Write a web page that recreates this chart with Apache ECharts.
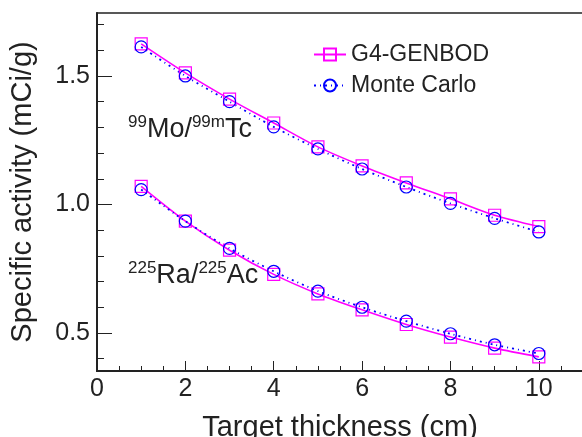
<!DOCTYPE html>
<html>
<head>
<meta charset="utf-8">
<script src="https://cdn.jsdelivr.net/npm/echarts@6/dist/echarts.min.js"></script>
<style>
  html, body { margin: 0; padding: 0; background: #fff; }
  #chart { width: 582px; height: 437px; }
</style>
</head>
<body>
<div id="chart"></div>
<script>
var thickness = [1, 2, 3, 4, 5, 6, 7, 8, 9, 10];
// 99Mo/99mTc
var g4Mo = [1.625, 1.512, 1.410, 1.317, 1.224, 1.150, 1.084, 1.022, 0.958, 0.914];
var mcMo = [1.613, 1.500, 1.400, 1.302, 1.216, 1.138, 1.068, 1.004, 0.946, 0.893];
// 225Ra/225Ac
var g4Ra = [1.070, 0.935, 0.822, 0.728, 0.652, 0.590, 0.533, 0.484, 0.441, 0.407];
var mcRa = [1.058, 0.935, 0.829, 0.740, 0.663, 0.600, 0.546, 0.497, 0.454, 0.420];

var xMajor = [0, 2, 4, 6, 8, 10];
var xMinor = [0.5, 1, 1.5, 2.5, 3, 3.5, 4.5, 5, 5.5, 6.5, 7, 7.5, 8.5, 9, 9.5, 10.5];
var yMajor = [0.5, 1.0, 1.5];
var yMinor = [0.4, 0.6, 0.7, 0.8, 0.9, 1.1, 1.2, 1.3, 1.4, 1.6, 1.7];

var FONT = 'Liberation Sans, Arial, sans-serif';
var AX = '#222';

function pairs(ys) { return thickness.map(function(x, i) { return [x, ys[i]]; }); }

function g4Series(ys) {
  return {
    name: 'G4-GENBOD', type: 'line', data: pairs(ys), smooth: 0.3,
    symbol: 'rect', symbolSize: 12,
    lineStyle: { color: '#ff00ff', width: 1.6, type: 'solid' },
    itemStyle: { color: 'rgba(0,0,0,0)', borderColor: '#ff00ff', borderWidth: 1.2 }
  };
}
function mcSeries(ys) {
  return {
    name: 'Monte Carlo', type: 'line', data: pairs(ys), smooth: 0.3,
    symbol: 'circle', symbolSize: 12,
    lineStyle: { color: '#0000ff', width: 1.8, type: [2, 4, 1, 4] },
    itemStyle: { color: 'rgba(0,0,0,0)', borderColor: '#0000ff', borderWidth: 1.2 }
  };
}

var chart = echarts.init(document.getElementById('chart'));
chart.setOption({
  animation: false,
  backgroundColor: '#fff',
  grid: { left: 97, right: -1, top: 13, bottom: 66, outerBoundsMode: 'none',
    show: true, borderColor: AX, borderWidth: 1.5 },
  legend: {
    data: ['G4-GENBOD', 'Monte Carlo'], orient: 'vertical', left: 308, top: 38,
    itemWidth: 32, itemHeight: 15, itemGap: 8,
    textStyle: { fontFamily: FONT, fontSize: 23, color: '#222' }
  },
  xAxis: [{
    type: 'value', min: 0, max: 11,
    name: 'Target thickness (cm)', nameLocation: 'middle', nameGap: 42,
    nameTextStyle: { fontFamily: FONT, fontSize: 29, color: '#222' },
    axisLine: { show: true, lineStyle: { color: AX, width: 2 } },
    axisTick: { show: true, inside: true, length: 10, customValues: xMajor, lineStyle: { color: AX } },
    axisLabel: { customValues: xMajor, fontFamily: FONT, fontSize: 25, color: '#222', margin: 6 },
    splitLine: { show: false }
  }, {
    type: 'value', min: 0, max: 11, position: 'bottom',
    axisLine: { show: false },
    axisTick: { show: true, inside: true, length: 5, customValues: xMinor, lineStyle: { color: AX } },
    axisLabel: { show: false }, splitLine: { show: false }
  }],
  yAxis: [{
    type: 'value', min: 0.352, max: 1.745,
    name: 'Specific activity (mCi/g)', nameLocation: 'middle', nameGap: 60,
    nameTextStyle: { fontFamily: FONT, fontSize: 29, color: '#222' },
    axisLine: { show: true, lineStyle: { color: AX, width: 2 } },
    axisTick: { show: true, inside: true, length: 15, customValues: yMajor, lineStyle: { color: AX } },
    axisLabel: { customValues: yMajor, fontFamily: FONT, fontSize: 25, color: '#222', margin: 7,
      formatter: function(v) { return v.toFixed(1); } },
    splitLine: { show: false }
  }, {
    type: 'value', min: 0.352, max: 1.745, position: 'left',
    axisLine: { show: false },
    axisTick: { show: true, inside: true, length: 7, customValues: yMinor, lineStyle: { color: AX } },
    axisLabel: { show: false }, splitLine: { show: false }
  }],
  graphic: [{
    type: 'text', left: 128, top: 114,
    style: {
      text: '{s|99}{m|Mo/}{s|99m}{m|Tc}',
      rich: {
        m: { fontFamily: FONT, fontSize: 27, fill: '#222', lineHeight: 32 },
        s: { fontFamily: FONT, fontSize: 17, fill: '#222', verticalAlign: 'top', lineHeight: 32 }
      }
    }
  }, {
    type: 'text', left: 128, top: 260,
    style: {
      text: '{s|225}{m|Ra/}{s|225}{m|Ac}',
      rich: {
        m: { fontFamily: FONT, fontSize: 27, fill: '#222', lineHeight: 32 },
        s: { fontFamily: FONT, fontSize: 17, fill: '#222', verticalAlign: 'top', lineHeight: 32 }
      }
    }
  }],
  series: [g4Series(g4Mo), mcSeries(mcMo), g4Series(g4Ra), mcSeries(mcRa)]
});
</script>
</body>
</html>
